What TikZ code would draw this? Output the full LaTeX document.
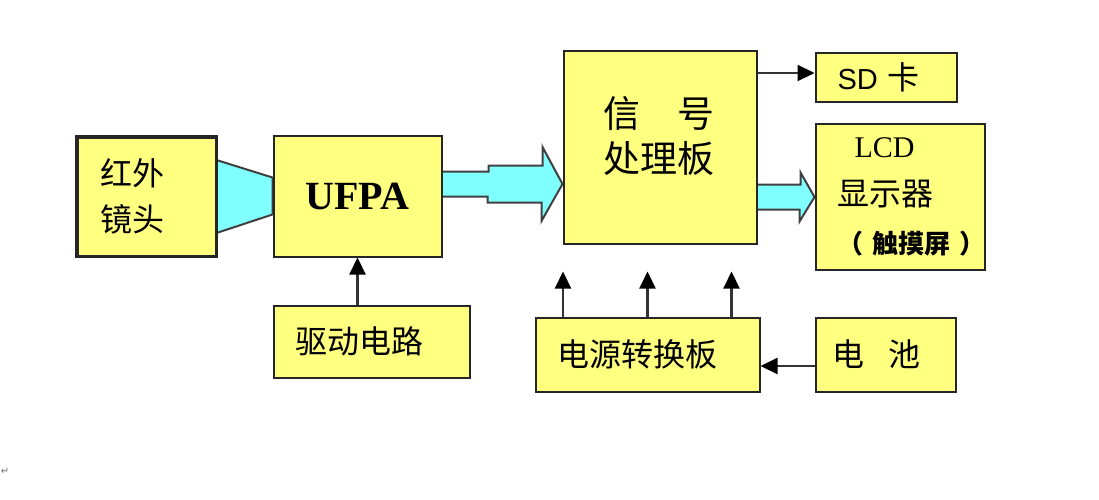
\documentclass[tikz,border=0pt]{standalone}
\usepackage{fontspec}
\setmainfont{Liberation Serif}
\newfontfamily\cjk{Noto Sans CJK SC}
\newfontfamily\sdfont{Liberation Sans}
\newfontfamily\markfont{DejaVu Sans}
\usetikzlibrary{calc,arrows.meta,backgrounds}
\definecolor{boxyellow}{RGB}{255,255,128}
\definecolor{beamcyan}{RGB}{128,255,255}
\tikzset{
	blockbox/.style={draw=black!85, line width=2pt, fill=boxyellow, inner ysep=0pt, align=left},
	beam/.style={draw=black!75, line width=2pt, fill=beamcyan},
	feed/.style={draw=black!80, line width=2.2pt, -{Triangle[width=16pt,length=17pt,black]}},
}

\begin{document}
\begin{tikzpicture}[x=1pt, y=-1pt]
	%%%%% START %%%%%
	\useasboundingbox (0,0) rectangle (1099,499);
	
	\node[blockbox, line width=3.5pt, minimum height=119.5pt, text width=93pt, inner xsep=23.25pt, font=\cjk\fontsize{32}{46}\selectfont] (lens) at (146.5,196.5) {红外\\镜头};
	\node[blockbox, minimum width=168pt, minimum height=121pt, font=\bfseries\fontsize{40}{48}\selectfont] (ufpa) at (357.5,196) {UFPA};
	\node[blockbox, minimum width=193pt, minimum height=193pt] (sig) at (660,147) {};
	\node[font=\cjk\fontsize{37}{45}\selectfont, align=left, anchor=west, inner sep=0pt] (sigtext) at ($(sig.west)+(41,-11.5)$) {信\hspace{1em}号\\处理板};
	
	\node[blockbox, minimum height=49pt, text width=97pt, inner xsep=22pt, font=\fontsize{29}{34}\selectfont] (sd) at (886,77) {{\sdfont SD} {\cjk\fontsize{32}{34}\selectfont 卡}};
	\node[blockbox, minimum height=146pt, text width=125pt, inner xsep=22pt, font=\cjk\fontsize{32}{48}\selectfont] (lcd) at (900,196.5) {\hspace{17pt}{\rmfamily\fontsize{30}{48}\selectfont LCD}\\显示器\\\mbox{\bfseries\fontsize{26}{48}\selectfont （\hspace{0.35em}触摸屏\hspace{0.35em}）}};
	
	\node[blockbox, minimum height=72pt, text width=153pt, inner xsep=21.5pt, font=\cjk\fontsize{32}{40}\selectfont] (drv) at (371.5,341.5) {驱动电路};
	\node[blockbox, minimum height=74pt, text width=181pt, inner xsep=21.5pt, font=\cjk\fontsize{32}{40}\selectfont] (pwr) at (647.5,354.5) {电源转换板};
	\node[blockbox, minimum height=74pt, text width=107pt, inner xsep=16.5pt, font=\cjk\fontsize{32}{40}\selectfont] (bat) at (885.5,354.5) {电\hspace{0.75em}池};
	
	% light beams
	\begin{scope}[on background layer]
		\draw[beam] ($(lens.east)+(0,-36)$) -- ($(ufpa.west)+(0,-18.5)$) -- ($(ufpa.west)+(0,18.5)$) -- ($(lens.east)+(0,36)$);
		\coordinate (b1) at ($(ufpa.east)+(0,-12)$);
		\draw[beam] ($(b1)+(0,-12.5)$) -- ++(46,0) -- ++(0,-6) -- ++(54,0) -- ++(0,-18.5) -- (sig.west |- b1) -- ++(-21,37) -- ++(0,-18.5) -- ++(-54,0) -- ++(0,-6) -- ++(-46,0);
		\coordinate (b2) at ($(sig.east)+(0,50)$);
		\draw[beam] ($(b2)+(0,-12.5)$) -- ++(43,0) -- ++(0,-12) -- (lcd.west |- b2) -- ++(-15,24.5) -- ++(0,-12) -- ++(-43,0);
	\end{scope}
	
	% signal arrows
	\draw[feed] (drv.north -| ufpa.south) -- (ufpa.south);
	\coordinate (sdin) at ($(sd.west)+(0,-4)$);
	\draw[feed] (sig.east |- sdin) -- (sdin);
	\foreach \dx [count=\i] in {-84.5,0,84} {
		\coordinate (up\i) at ($(pwr.north)+(\dx,-45)$);
		\draw[feed] ($(pwr.north)+(\dx,0)$) -- (up\i);
	}
	\draw[feed] ($(bat.west)+(0,11.5)$) -- ($(pwr.east)+(0,11.5)$);
	
	\node[font=\markfont\fontsize{10}{10}\selectfont, text=black!55, inner sep=0pt] (pmark) at (5,471) {↵};
	%%%%% END %%%%%
\end{tikzpicture}
\end{document}
